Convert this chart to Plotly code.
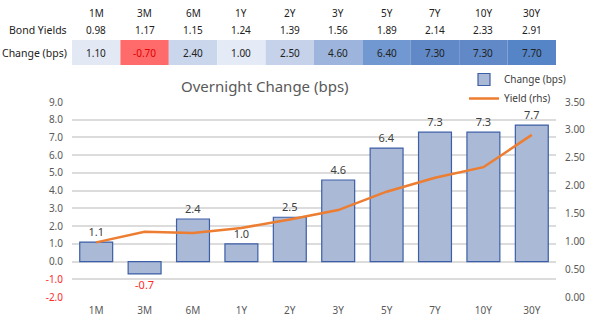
import plotly.graph_objects as go

tenors = ["1M", "3M", "6M", "1Y", "2Y", "3Y", "5Y", "7Y", "10Y", "30Y"]
yields = [0.98, 1.17, 1.15, 1.24, 1.39, 1.56, 1.89, 2.14, 2.33, 2.91]
change_bps = [1.10, -0.70, 2.40, 1.00, 2.50, 4.60, 6.40, 7.30, 7.30, 7.70]
cell_colors = ["#e2e9f5", "#ff6b6b", "#c9d6ec", "#e4ebf6", "#c5d2ea",
               "#9db5dd", "#7198d0", "#6189c8", "#6189c8", "#5585c6"]

FONT = "Noto Sans"
TXT = "#404040"

# plot area in pixels
PL, PR, PT, PB = 72, 556, 102, 297


def py(pix):
    return (PB - pix) / (PB - PT)


def px(pix):
    return (pix - PL) / (PR - PL)


fig = go.Figure()

fig.add_trace(go.Bar(
    x=tenors, y=change_bps, name="Change (bps)",
    marker=dict(color="#aab9d6", line=dict(color="#3c5ea6", width=1.2)),
    width=0.68,
    text=[f"{v:.1f}" for v in change_bps],
    textposition="outside",
    textfont=dict(family=FONT, size=11,
                  color=["#ff2a2a" if v < 0 else TXT for v in change_bps]),
    cliponaxis=False,
))

fig.add_trace(go.Scatter(
    x=tenors, y=yields, name="Yield (rhs)", yaxis="y2", mode="lines",
    line=dict(color="#ed7d31", width=2.5),
))

shapes = []
annotations = []


def label(x, y, text, xref="x", size=10, color="#222", xanchor="center"):
    annotations.append(dict(x=x, y=y, xref=xref, yref="paper", text=text,
                            showarrow=False, xanchor=xanchor, yanchor="middle",
                            font=dict(family=FONT, size=size, color=color)))


# table above chart: header, yields row, change row
for i, t in enumerate(tenors):
    label(i, py(13), t)
    label(i, py(30), f"{yields[i]:.2f}")
    shapes.append(dict(type="rect", xref="x", yref="paper",
                       x0=i - 0.5, x1=i + 0.5, y0=py(65), y1=py(40),
                       fillcolor=cell_colors[i], line=dict(width=0), layer="below"))
    label(i, py(52.5), f"{change_bps[i]:.2f}",
          color="#e00000" if change_bps[i] < 0 else "#222")

label(px(69), py(30), "Bond Yields", xref="paper", size=10.5, xanchor="right")
label(px(69), py(52.5), "Change (bps)", xref="paper", size=10.5, xanchor="right")

label(px(265), py(86), "Overnight Change (bps)", xref="paper", size=15, color="#595959")

left_ticks = [-2, -1, 0, 1, 2, 3, 4, 5, 6, 7, 8, 9]
left_labels = [f"{v:.1f}" for v in left_ticks]
left_labels = [f'<span style="color:#ff2a2a">{l}</span>' if v < 0 else l
               for v, l in zip(left_ticks, left_labels)]

fig.update_layout(
    width=600, height=332,
    margin=dict(l=PL, r=600 - PR, t=PT, b=332 - PB, autoexpand=False),
    paper_bgcolor="white", plot_bgcolor="white",
    font=dict(family=FONT, size=10, color="#595959"),
    showlegend=True,
    legend=dict(x=px(464), y=py(65), xanchor="left", yanchor="top",
                font=dict(family=FONT, size=10, color="#404040"),
                bgcolor="rgba(0,0,0,0)", itemwidth=30, tracegroupgap=0,
                borderwidth=0),
    xaxis=dict(showgrid=False, showline=False, ticks="", automargin=False,
               tickfont=dict(family=FONT, size=10, color="#595959"), ticklabelstandoff=6),
    yaxis=dict(range=[-2, 9], tickvals=left_ticks, ticktext=left_labels, automargin=False,
               showgrid=True, gridcolor="#dcdcdc", gridwidth=1.5,
               zeroline=True, zerolinecolor="#dcdcdc", zerolinewidth=1.5,
               tickfont=dict(family=FONT, size=10, color="#595959"), ticklabelstandoff=8),
    yaxis2=dict(range=[0, 3.5], overlaying="y", side="right", automargin=False,
                tickvals=[0, 0.5, 1, 1.5, 2, 2.5, 3, 3.5], tickformat=".2f",
                showgrid=False, zeroline=False,
                tickfont=dict(family=FONT, size=10, color="#595959"), ticklabelstandoff=8),
    shapes=shapes, annotations=annotations,
)

fig.write_html("out.html")
